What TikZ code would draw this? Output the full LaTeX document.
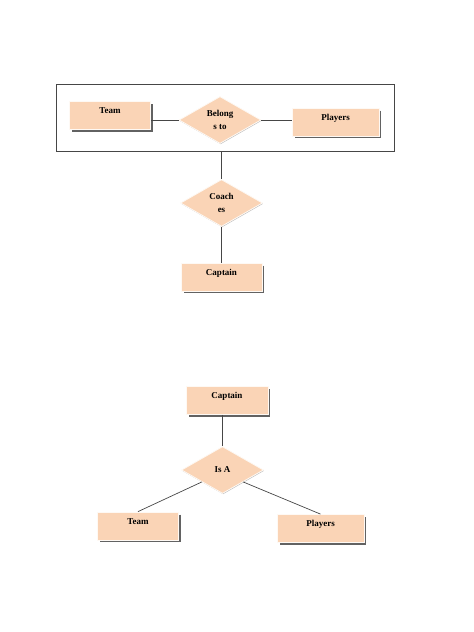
\documentclass[tikz,border=0pt]{standalone}
\usepackage{fontspec}
\setmainfont{Liberation Serif}
\usepackage{tikz}
\usetikzlibrary{positioning}
\usetikzlibrary{shapes.geometric}
\usetikzlibrary{shadows}
\definecolor{erfill}{RGB}{250,212,182}
\definecolor{erline}{RGB}{70,70,70}
\tikzset{basic shape/.style={fill=erfill,
                             draw=white!85!erfill,
                             line width=0.8pt,
                             font=\fontsize{9}{13}\selectfont\bfseries}}
\tikzset{box edge/.style={draw=erline!85,
                          line width=1.3pt}}
\tikzset{entity/.style={basic shape,
                        rectangle,
                        minimum width=81pt,
                        minimum height=28pt,
                        inner ysep=5pt,
                        text height=7pt,
                        text depth=11pt,
                        append after command={\pgfextra{\draw [box edge]
                        ([xshift=1pt,yshift=-3pt]\tikzlastnode.north east)
                        -- ([xshift=1pt,yshift=-1pt]\tikzlastnode.south east)
                        -- ([xshift=3pt,yshift=-1pt]\tikzlastnode.south west);}}}}
\tikzset{relation/.style={basic shape,
                          diamond,
                          aspect=1.76,
                          inner sep=0pt,
                          align=center,
                          minimum width=82pt,
                          minimum height=47pt,
                          drop shadow={shadow xshift=0.6pt,shadow yshift=-0.8pt,
                                       fill=black!25,opacity=1}}}
\tikzset{link/.style={draw=erline,
                      line width=0.7pt}}
\begin{document}
\begin{tikzpicture}
      [
      x=1pt,y=-1pt,
      group box/.style={draw=erline,
      line width=0.8pt,
      minimum width=338pt,
      minimum height=67pt},
      ]
      \useasboundingbox (0,0) rectangle (474,632);

      % aggregation
      \node [group box] (G) at (225,117.5) {};

      % entities
      \node [entity] (Team1)    at (110,115.5) {Team};
      \node [entity,minimum width=87pt] (Players1) at (335.5,122) {Players};
      \node [entity] (Captain1) at (221.5,277) {Captain};

      \node [entity,minimum width=82pt] (Captain2) at (227,400.5) {Captain};
      \node [entity] (Team2)    at (138,526) {Team};
      \node [entity,minimum width=87pt] (Players2) at (320.5,528.5) {Players};

      % relationships
      \node [relation] (Belongs) at (220,120) {Belong\\s to};
      \node [relation] (Coaches) at (221.5,203) {Coach\\es};
      \node [relation] (IsA)     at (222.5,470) {Is A};

      % links
      \path [link] (Team1.east |- Belongs) -- (Belongs.west);
      \path [link] (Belongs.east) -- (Players1.west |- Belongs);
      \path [link] (G.south -| Coaches) -- (Coaches.north);
      \path [link] (Coaches.south) -- (Captain1.north);

      \path [link] (Captain2.south -| IsA) -- (IsA.north);
      \path [link] (IsA.south west) -- (Team2.north);
      \path [link] (IsA.south east) -- (Players2.north);

    \end{tikzpicture}
\end{document}
